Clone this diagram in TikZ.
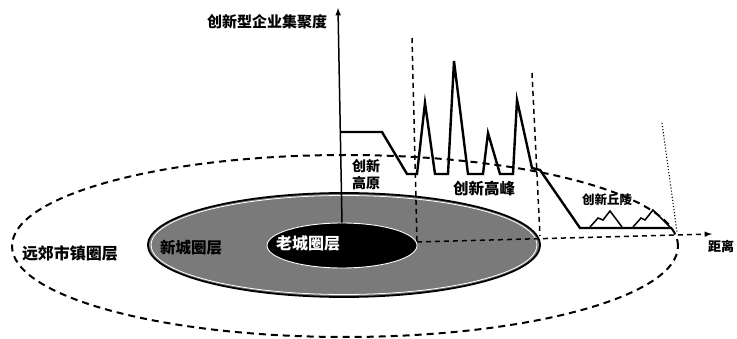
\documentclass[tikz,border=0pt]{standalone}
\usepackage{fontspec}
\newfontfamily\cjk{Noto Sans CJK SC}
\usetikzlibrary{shapes.geometric}
\tikzset{
  lbl/.style={inner sep=0pt, align=center, font=\cjk\bfseries\fontsize{#1}{17}\selectfont},
  curve/.style={black, line width=2.4pt, line join=miter},
  hill/.style={black, line width=1.5pt, line join=miter},
  guide/.style={black, line width=1.5pt, dash pattern=on 5pt off 4pt},
}
\begin{document}
\begin{tikzpicture}[>=latex,x=1pt,y=-1pt,line join=bevel]
\useasboundingbox (0,0) rectangle (737,339);
%% rings
\node (outer) at (345,246) [ellipse,draw,line width=2pt,dash pattern=on 7pt off 5pt,minimum width=666pt,minimum height=182pt,inner sep=0pt] {};
\node (newcity) at (344,245) [ellipse,draw,fill=black!52,line width=1.8pt,minimum width=392pt,minimum height=104pt,inner sep=0pt] {};
\draw [white,line width=0.8pt] (newcity.center) ellipse [x radius=193pt,y radius=49.5pt];
\node (oldcity) at (342,245.5) [ellipse,draw=white,fill=black,line width=0.9pt,minimum width=150pt,minimum height=45pt,inner sep=0pt] {};
%% axes
\coordinate (ytip) at (338,8);
\coordinate (xstart) at (417,242);
\coordinate (xtip) at (712,234);
\draw [black,->,line width=1.5pt] (oldcity.north) -- (ytip);
\draw [guide,->] (xstart) -- (xtip);
%% guides
\coordinate (gone) at (412,38);
\coordinate (gtwo) at (532,73);
\coordinate (gtwoend) at (540,236);
\coordinate (gthree) at (662,123);
\coordinate (gthreeend) at (677,232);
\draw [guide] (gone) -- (xstart);
\draw [guide] (gtwo) -- (gtwoend);
\draw [black,dotted,line width=1.1pt] (gthree) -- (gthreeend);
%% profile
\draw [curve] (340,132) -- (382,132) -- (407,174) -- (417,174) -- (425,103) -- (435,174)
  -- (448,174) -- (454,61) -- (468,174) -- (483,174) -- (488,133) -- (500,174)
  -- (513,174) -- (517,100) -- (532,168) -- (540,170) -- (580,228) -- (672,228);
\draw [hill] (590,227) -- (598,218) -- (603,220) -- (610,211) -- (622,227);
\draw [hill] (633,227) -- (641,218) -- (645,220) -- (653,210) -- (670,227);
%% labels
\node (lbl_axis) at (267,22) [lbl=15] {创新型企业集聚度};
\node (lbl_dist) at (721,247) [lbl=13] {距离};
\node (lbl_plateau) at (366,175) [lbl=14] {创新\\高原};
\node (lbl_peak) at (484,189) [lbl=15.5] {创新高峰};
\node (lbl_hill) at (607,200) [lbl=12.5] {创新丘陵};
\node (lbl_outer) at (70,253) [lbl=16] {远郊市镇圈层};
\node (lbl_new) at (191,248) [lbl=15.5] {新城圈层};
\node (lbl_old) at (308,243) [lbl=16,white] {老城圈层};
%
\end{tikzpicture}
\end{document}
